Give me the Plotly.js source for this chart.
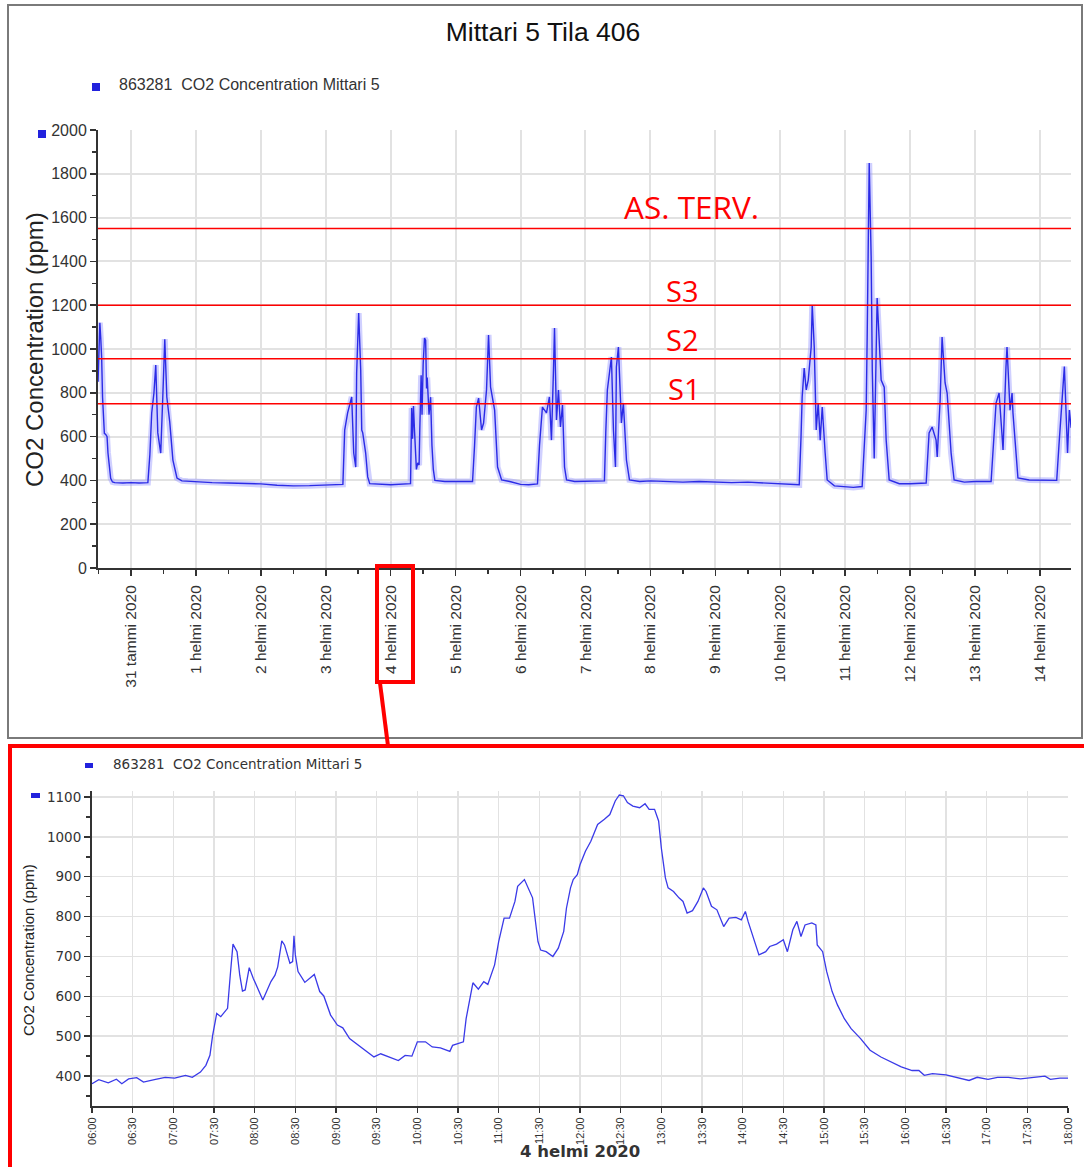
<!DOCTYPE html>
<html>
<head>
<meta charset="utf-8">
<script src="https://cdn.plot.ly/plotly-3.0.1.min.js"></script>
<style>html,body{margin:0;padding:0;background:#fff;}#chart{width:1084px;height:1167px;}</style>
</head>
<body>
<div id="chart"></div>
<script>
// ---------- DATA ----------
const chartTitle = 'Mittari 5 Tila 406';
const seriesName = '863281  CO2 Concentration Mittari 5';
const yTitle = 'CO2 Concentration (ppm)';
const zoomDayTitle = '4 helmi 2020';

const topTimes = [
'2020-01-30 11:50','2020-01-30 12:10','2020-01-30 12:30','2020-01-30 12:50','2020-01-30 13:10','2020-01-30 13:30','2020-01-30 13:50','2020-01-30 14:10','2020-01-30 14:40','2020-01-30 15:10','2020-01-30 15:30','2020-01-30 16:00','2020-01-30 16:30','2020-01-30 17:10','2020-01-30 18:00','2020-01-30 21:00',
'2020-01-31 00:00','2020-01-31 03:00','2020-01-31 06:15','2020-01-31 07:00','2020-01-31 07:40','2020-01-31 08:30','2020-01-31 09:10','2020-01-31 09:55','2020-01-31 10:40','2020-01-31 11:00','2020-01-31 11:45','2020-01-31 12:30','2020-01-31 13:15','2020-01-31 14:20','2020-01-31 15:30','2020-01-31 17:00','2020-01-31 18:50','2020-01-31 21:00',
'2020-02-01 00:00','2020-02-01 06:00','2020-02-01 12:00','2020-02-01 18:00',
'2020-02-02 00:00','2020-02-02 06:00','2020-02-02 12:00','2020-02-02 18:00',
'2020-02-03 00:00','2020-02-03 06:20','2020-02-03 07:00','2020-02-03 08:05','2020-02-03 09:35','2020-02-03 10:20','2020-02-03 11:05','2020-02-03 11:25','2020-02-03 12:10','2020-02-03 12:55','2020-02-03 13:18','2020-02-03 13:40','2020-02-03 14:45','2020-02-03 15:30','2020-02-03 16:15','2020-02-03 20:00',
'2020-02-04 00:00','2020-02-04 07:20','2020-02-04 07:35','2020-02-04 07:45','2020-02-04 08:05','2020-02-04 08:25','2020-02-04 08:50','2020-02-04 09:30','2020-02-04 10:00','2020-02-04 10:30','2020-02-04 10:45','2020-02-04 11:15','2020-02-04 11:35','2020-02-04 12:00','2020-02-04 12:30','2020-02-04 12:55','2020-02-04 13:15','2020-02-04 13:30','2020-02-04 14:10','2020-02-04 14:45','2020-02-04 15:15','2020-02-04 15:45','2020-02-04 16:20','2020-02-04 20:00',
'2020-02-05 00:00','2020-02-05 06:15','2020-02-05 07:00','2020-02-05 07:40','2020-02-05 08:30','2020-02-05 09:35','2020-02-05 10:20','2020-02-05 11:25','2020-02-05 12:10','2020-02-05 12:55','2020-02-05 14:25','2020-02-05 15:30','2020-02-05 17:00','2020-02-05 20:00',
'2020-02-06 00:00','2020-02-06 03:00','2020-02-06 06:15','2020-02-06 07:00','2020-02-06 08:05','2020-02-06 09:35','2020-02-06 10:40','2020-02-06 11:25','2020-02-06 12:10','2020-02-06 12:33','2020-02-06 13:17','2020-02-06 14:00','2020-02-06 14:45','2020-02-06 15:30','2020-02-06 16:15','2020-02-06 17:00','2020-02-06 20:00',
'2020-02-07 00:00','2020-02-07 07:00','2020-02-07 07:30','2020-02-07 08:05','2020-02-07 09:35','2020-02-07 10:20','2020-02-07 11:05','2020-02-07 11:25','2020-02-07 12:10','2020-02-07 13:17','2020-02-07 14:00','2020-02-07 15:08','2020-02-07 16:15','2020-02-07 20:00',
'2020-02-08 00:00','2020-02-08 06:00','2020-02-08 12:00','2020-02-08 18:00',
'2020-02-09 00:00','2020-02-09 06:00','2020-02-09 12:00','2020-02-09 18:00',
'2020-02-10 00:00','2020-02-10 06:30','2020-02-10 07:00','2020-02-10 07:40','2020-02-10 08:05','2020-02-10 08:50','2020-02-10 09:35','2020-02-10 10:20','2020-02-10 11:25','2020-02-10 11:48','2020-02-10 12:33','2020-02-10 13:17','2020-02-10 14:00','2020-02-10 14:45','2020-02-10 15:30','2020-02-10 16:35','2020-02-10 17:20','2020-02-10 20:00',
'2020-02-11 00:00','2020-02-11 03:00','2020-02-11 06:15','2020-02-11 07:00','2020-02-11 07:45','2020-02-11 08:07','2020-02-11 08:52','2020-02-11 09:35','2020-02-11 10:00','2020-02-11 10:43','2020-02-11 11:25','2020-02-11 11:48','2020-02-11 12:33','2020-02-11 13:17','2020-02-11 14:25','2020-02-11 15:08','2020-02-11 16:15','2020-02-11 20:00',
'2020-02-12 00:00','2020-02-12 05:55','2020-02-12 07:00','2020-02-12 08:07','2020-02-12 09:35','2020-02-12 10:00','2020-02-12 11:05','2020-02-12 11:48','2020-02-12 12:55','2020-02-12 13:40','2020-02-12 15:08','2020-02-12 16:15','2020-02-12 20:00',
'2020-02-13 00:00','2020-02-13 05:55','2020-02-13 06:50','2020-02-13 07:45','2020-02-13 08:52','2020-02-13 09:35','2020-02-13 10:20','2020-02-13 11:25','2020-02-13 11:48','2020-02-13 12:55','2020-02-13 13:40','2020-02-13 14:00','2020-02-13 15:08','2020-02-13 15:50','2020-02-13 20:00',
'2020-02-14 00:00','2020-02-14 06:10','2020-02-14 07:00','2020-02-14 07:50','2020-02-14 08:40','2020-02-14 09:00','2020-02-14 09:25','2020-02-14 10:10','2020-02-14 10:50','2020-02-14 11:30'
];
const topValues = [
850,1000,1120,1050,960,780,700,615,610,600,525,450,410,393,390,388,
390,388,390,520,708,800,927,617,560,525,776,1045,781,667,493,411,398,396,
394,390,388,386,
384,378,375,376,
378,382,630,708,781,525,461,890,1164,904,630,617,525,416,385,382,
380,385,550,730,590,740,620,450,480,470,630,880,700,930,1050,1040,820,870,700,780,560,450,400,395,
395,395,560,735,776,630,662,813,1064,826,721,461,402,395,
382,380,384,560,735,708,781,584,904,1096,676,813,644,744,461,402,395,
395,398,620,813,963,630,461,918,1009,662,753,493,402,395,
398,395,392,395,
393,390,392,388,
382,378,380,600,781,913,813,858,1009,1201,1009,630,753,584,735,525,402,375,
370,368,372,520,721,1055,1849,1420,904,500,1055,1233,1041,858,826,584,402,385,
385,388,617,644,584,507,767,1055,845,799,525,402,392,
395,395,560,753,799,690,539,918,1009,721,799,708,539,411,402,
400,400,560,721,890,920,781,525,721,640
];

const zoomDate = '2020-02-04';
const zoomTimes = [
'06:00','06:05','06:12','06:18','06:22','06:27','06:33','06:38','06:46','06:54','07:01','07:09','07:14','07:20','07:24','07:27','07:29','07:32','07:35','07:40','07:42','07:44','07:47','07:49','07:51','07:53','07:56','07:59',
'08:06','08:12','08:15','08:17','08:20','08:22','08:26','08:28','08:29','08:30','08:32','08:37','08:44','08:48','08:51','08:56',
'09:01','09:05','09:10','09:15','09:22','09:28','09:33','09:39','09:46','09:51','09:56',
'10:00','10:06','10:11','10:17','10:24','10:26','10:34','10:36','10:41','10:45','10:49','10:52','10:57',
'11:00','11:04','11:08','11:12','11:14','11:19','11:25','11:29','11:31','11:35','11:40','11:44','11:48','11:50','11:53','11:55','11:58',
'12:00','12:04','12:08','12:11','12:13','12:18','12:22','12:26','12:29','12:32','12:35','12:39','12:44','12:48','12:51','12:55','12:58',
'13:00','13:03','13:05','13:09','13:13','13:16','13:19','13:23','13:27','13:31','13:33','13:37','13:41','13:46','13:50','13:55','13:59',
'14:02','14:04','14:08','14:12','14:17','14:20','14:25','14:30','14:33','14:37','14:40','14:43','14:46','14:51','14:54','14:55','14:59',
'15:02','15:06','15:10','15:15','15:20','15:27','15:34','15:42','15:50','15:57',
'16:05','16:10','16:14','16:20','16:30','16:38','16:47','16:53',
'17:01','17:08','17:16','17:25','17:33','17:43','17:47','17:54','18:00'
];
const zoomValues = [
381,391,383,392,381,393,396,385,391,397,395,402,397,410,427,452,502,557,549,570,653,731,712,653,613,616,672,645,
591,637,653,674,739,729,683,687,752,704,662,635,655,612,601,553,
528,521,494,481,465,448,456,448,439,452,450,
486,486,473,471,462,477,486,544,634,618,637,630,679,
737,796,796,838,876,893,847,737,716,712,700,721,763,821,872,893,905,
930,964,989,1014,1031,1044,1056,1090,1105,1103,1086,1077,1073,1083,1069,1069,1040,
972,897,872,863,847,838,809,815,838,872,863,826,817,775,796,798,792,
813,788,746,704,712,725,731,742,712,767,788,750,779,784,779,729,712,
662,612,578,544,519,494,465,448,435,423,
414,414,402,406,403,397,389,397,
392,397,397,393,396,400,392,395,395
];

const thresholdValues = [1550, 1200, 955, 750];
const thresholdLabels = ['AS. TERV.', 'S3', 'S2', 'S1'];

const topTickVals = ['2020-01-31','2020-02-01','2020-02-02','2020-02-03','2020-02-04','2020-02-05','2020-02-06','2020-02-07','2020-02-08','2020-02-09','2020-02-10','2020-02-11','2020-02-12','2020-02-13','2020-02-14'];
const topTickText = ['31 tammi 2020','1 helmi 2020','2 helmi 2020','3 helmi 2020','4 helmi 2020','5 helmi 2020','6 helmi 2020','7 helmi 2020','8 helmi 2020','9 helmi 2020','10 helmi 2020','11 helmi 2020','12 helmi 2020','13 helmi 2020','14 helmi 2020'];
const zoomTickText = ['06:00','06:30','07:00','07:30','08:00','08:30','09:00','09:30','10:00','10:30','11:00','11:30','12:00','12:30','13:00','13:30','14:00','14:30','15:00','15:30','16:00','16:30','17:00','17:30','18:00'];

// ---------- LAYOUT HELPERS ----------
const W = 1084, H = 1167;
const px = x => x / W;
const py = y => 1 - y / H;

const zoomX = zoomTimes.map(t => zoomDate + ' ' + t);
const zoomTickVals = zoomTickText.map(t => zoomDate + ' ' + t);

const lineBlue = '#2b2be6';
const traces = [
  {x: topTimes, y: topValues, type: 'scatter', mode: 'lines', xaxis: 'x', yaxis: 'y',
   line: {color: 'rgba(150,150,255,0.45)', width: 6}, hoverinfo: 'skip'},
  {x: topTimes, y: topValues, type: 'scatter', mode: 'lines', xaxis: 'x', yaxis: 'y',
   name: seriesName, line: {color: lineBlue, width: 1.4}},
  {x: zoomX, y: zoomValues, type: 'scatter', mode: 'lines', xaxis: 'x2', yaxis: 'y2',
   name: seriesName, line: {color: '#3a3ae8', width: 1.3}}
];

const shapes = [];
thresholdValues.forEach(v => shapes.push({type: 'line', xref: 'x domain', yref: 'y', x0: 0, x1: 1, y0: v, y1: v,
  line: {color: '#ff0000', width: 1.5}}));
// panel frames
shapes.push({type: 'rect', xref: 'paper', yref: 'paper', x0: px(8), x1: px(1082), y0: py(5), y1: py(738),
  line: {color: '#7a7a7a', width: 2}});
shapes.push({type: 'rect', xref: 'paper', yref: 'paper', x0: px(10), x1: px(1095), y0: py(746), y1: py(1180),
  line: {color: '#ff0000', width: 4}});
// highlight box around the 4 helmi label + connector
shapes.push({type: 'rect', xref: 'paper', yref: 'paper', x0: px(377), x1: px(413), y0: py(566), y1: py(682),
  line: {color: '#ff0000', width: 4}});
shapes.push({type: 'line', xref: 'paper', yref: 'paper', x0: px(380), x1: px(388), y0: py(683), y1: py(746),
  line: {color: '#ff0000', width: 4}});
// legend / axis markers
shapes.push({type: 'rect', xref: 'paper', yref: 'paper', x0: px(92), x1: px(100), y0: py(83), y1: py(91),
  fillcolor: '#2222dd', line: {width: 0}});
shapes.push({type: 'rect', xref: 'paper', yref: 'paper', x0: px(38), x1: px(46), y0: py(130), y1: py(138),
  fillcolor: '#2222dd', line: {width: 0}});
shapes.push({type: 'rect', xref: 'paper', yref: 'paper', x0: px(85), x1: px(93), y0: py(763), y1: py(768),
  fillcolor: '#2222dd', line: {width: 0}});
shapes.push({type: 'rect', xref: 'paper', yref: 'paper', x0: px(31), x1: px(40), y0: py(793), y1: py(798),
  fillcolor: '#2222dd', line: {width: 0}});

const annFontRed = {family: 'Open Sans, Liberation Sans, sans-serif', color: '#ff0000'};
const thresholdLabelPos = [{x: 691, y: 207, size: 31.5}, {x: 682, y: 290, size: 29}, {x: 682, y: 340, size: 29}, {x: 684, y: 389, size: 29}];
const annotations = thresholdLabels.map((t, i) => ({
  text: t, xref: 'paper', yref: 'paper', x: px(thresholdLabelPos[i].x), y: py(thresholdLabelPos[i].y),
  xanchor: 'center', yanchor: 'middle', showarrow: false,
  font: Object.assign({size: thresholdLabelPos[i].size}, annFontRed)
}));
annotations.push({text: seriesName, xref: 'paper', yref: 'paper', x: px(117), y: py(85), xanchor: 'left', yanchor: 'middle',
  showarrow: false, font: {family: 'Liberation Sans, Arial, sans-serif', size: 16, color: '#333'}});
annotations.push({text: seriesName, xref: 'paper', yref: 'paper', x: px(111), y: py(764), xanchor: 'left', yanchor: 'middle',
  showarrow: false, font: {family: 'DejaVu Sans, sans-serif', size: 13.5, color: '#333'}});
annotations.push({text: yTitle, xref: 'paper', yref: 'paper', x: px(35), y: py(350), xanchor: 'center', yanchor: 'middle',
  textangle: -90, showarrow: false, font: {family: 'Liberation Sans, Arial, sans-serif', size: 24, color: '#222'}});
annotations.push({text: yTitle, xref: 'paper', yref: 'paper', x: px(28), y: py(950), xanchor: 'center', yanchor: 'middle',
  textangle: -90, showarrow: false, font: {family: 'Liberation Sans, Arial, sans-serif', size: 15, color: '#222'}});
annotations.push({text: '<b>' + zoomDayTitle + '</b>', xref: 'paper', yref: 'paper', x: px(580), y: py(1151), xanchor: 'center', yanchor: 'middle',
  showarrow: false, font: {family: 'DejaVu Sans, sans-serif', size: 16.5, color: '#333'}});

const gridC = '#e2e2e2';
const tickFontTop = {family: 'Liberation Sans, Arial, sans-serif', size: 15.5, color: '#333'};
const layout = {
  width: W, height: H,
  margin: {l: 0, r: 0, t: 0, b: 0},
  paper_bgcolor: '#fff', plot_bgcolor: '#fff',
  showlegend: false,
  title: {text: chartTitle, x: px(543), y: py(32), xanchor: 'center', yanchor: 'middle', xref: 'paper', yref: 'paper',
    font: {family: 'Liberation Sans, Arial, sans-serif', size: 26.5, color: '#111'}},
  xaxis: {domain: [px(98), px(1071)], anchor: 'y', type: 'date',
    range: ['2020-01-30 11:49', '2020-02-14 11:27'],
    tickmode: 'array', tickvals: topTickVals, ticktext: topTickText, tickangle: -90,
    tickfont: tickFontTop, ticks: 'outside', ticklen: 6, tickwidth: 1.5, tickcolor: '#333', ticklabelstandoff: 3,
    minor: {dtick: 43200000, tick0: '2020-01-31 12:00', ticks: 'outside', ticklen: 4, tickcolor: '#333', showgrid: false},
    showline: true, linecolor: '#333', linewidth: 2, showgrid: true, gridcolor: gridC, gridwidth: 2, zeroline: false},
  yaxis: {domain: [py(568), py(130)], anchor: 'x', range: [0, 2000], tick0: 0, dtick: 200,
    tickfont: {family: 'Liberation Sans, Arial, sans-serif', size: 16, color: '#333'},
    ticks: 'outside', ticklen: 6, tickwidth: 1.5, tickcolor: '#333',
    minor: {dtick: 100, ticks: 'outside', ticklen: 4, tickcolor: '#333', showgrid: false},
    showline: true, linecolor: '#333', linewidth: 2, showgrid: true, gridcolor: gridC, gridwidth: 2, zeroline: false},
  xaxis2: {domain: [px(92), px(1068)], anchor: 'y2', type: 'date',
    range: [zoomDate + ' 06:00', zoomDate + ' 18:00'],
    tickmode: 'array', tickvals: zoomTickVals, ticktext: zoomTickText, tickangle: -90,
    tickfont: {family: 'Liberation Sans, Arial, sans-serif', size: 11, color: '#333'},
    ticks: 'outside', ticklen: 5, tickwidth: 1.5, tickcolor: '#333',
    showline: true, linecolor: '#333', linewidth: 2, showgrid: true, gridcolor: gridC, gridwidth: 1.5, zeroline: false},
  yaxis2: {domain: [py(1106), py(791)], anchor: 'x2', range: [325, 1115], tick0: 0, dtick: 100,
    tickfont: {family: 'DejaVu Sans, sans-serif', size: 13.5, color: '#333'},
    ticks: 'outside', ticklen: 6, tickwidth: 1.5, tickcolor: '#333',
    minor: {dtick: 50, ticks: 'outside', ticklen: 4, tickcolor: '#333', showgrid: false},
    showline: true, linecolor: '#333', linewidth: 2, showgrid: true, gridcolor: gridC, gridwidth: 1.5, zeroline: false},
  shapes: shapes,
  annotations: annotations
};

Plotly.newPlot('chart', traces, layout, {staticPlot: true, displayModeBar: false});
</script>
</body>
</html>
